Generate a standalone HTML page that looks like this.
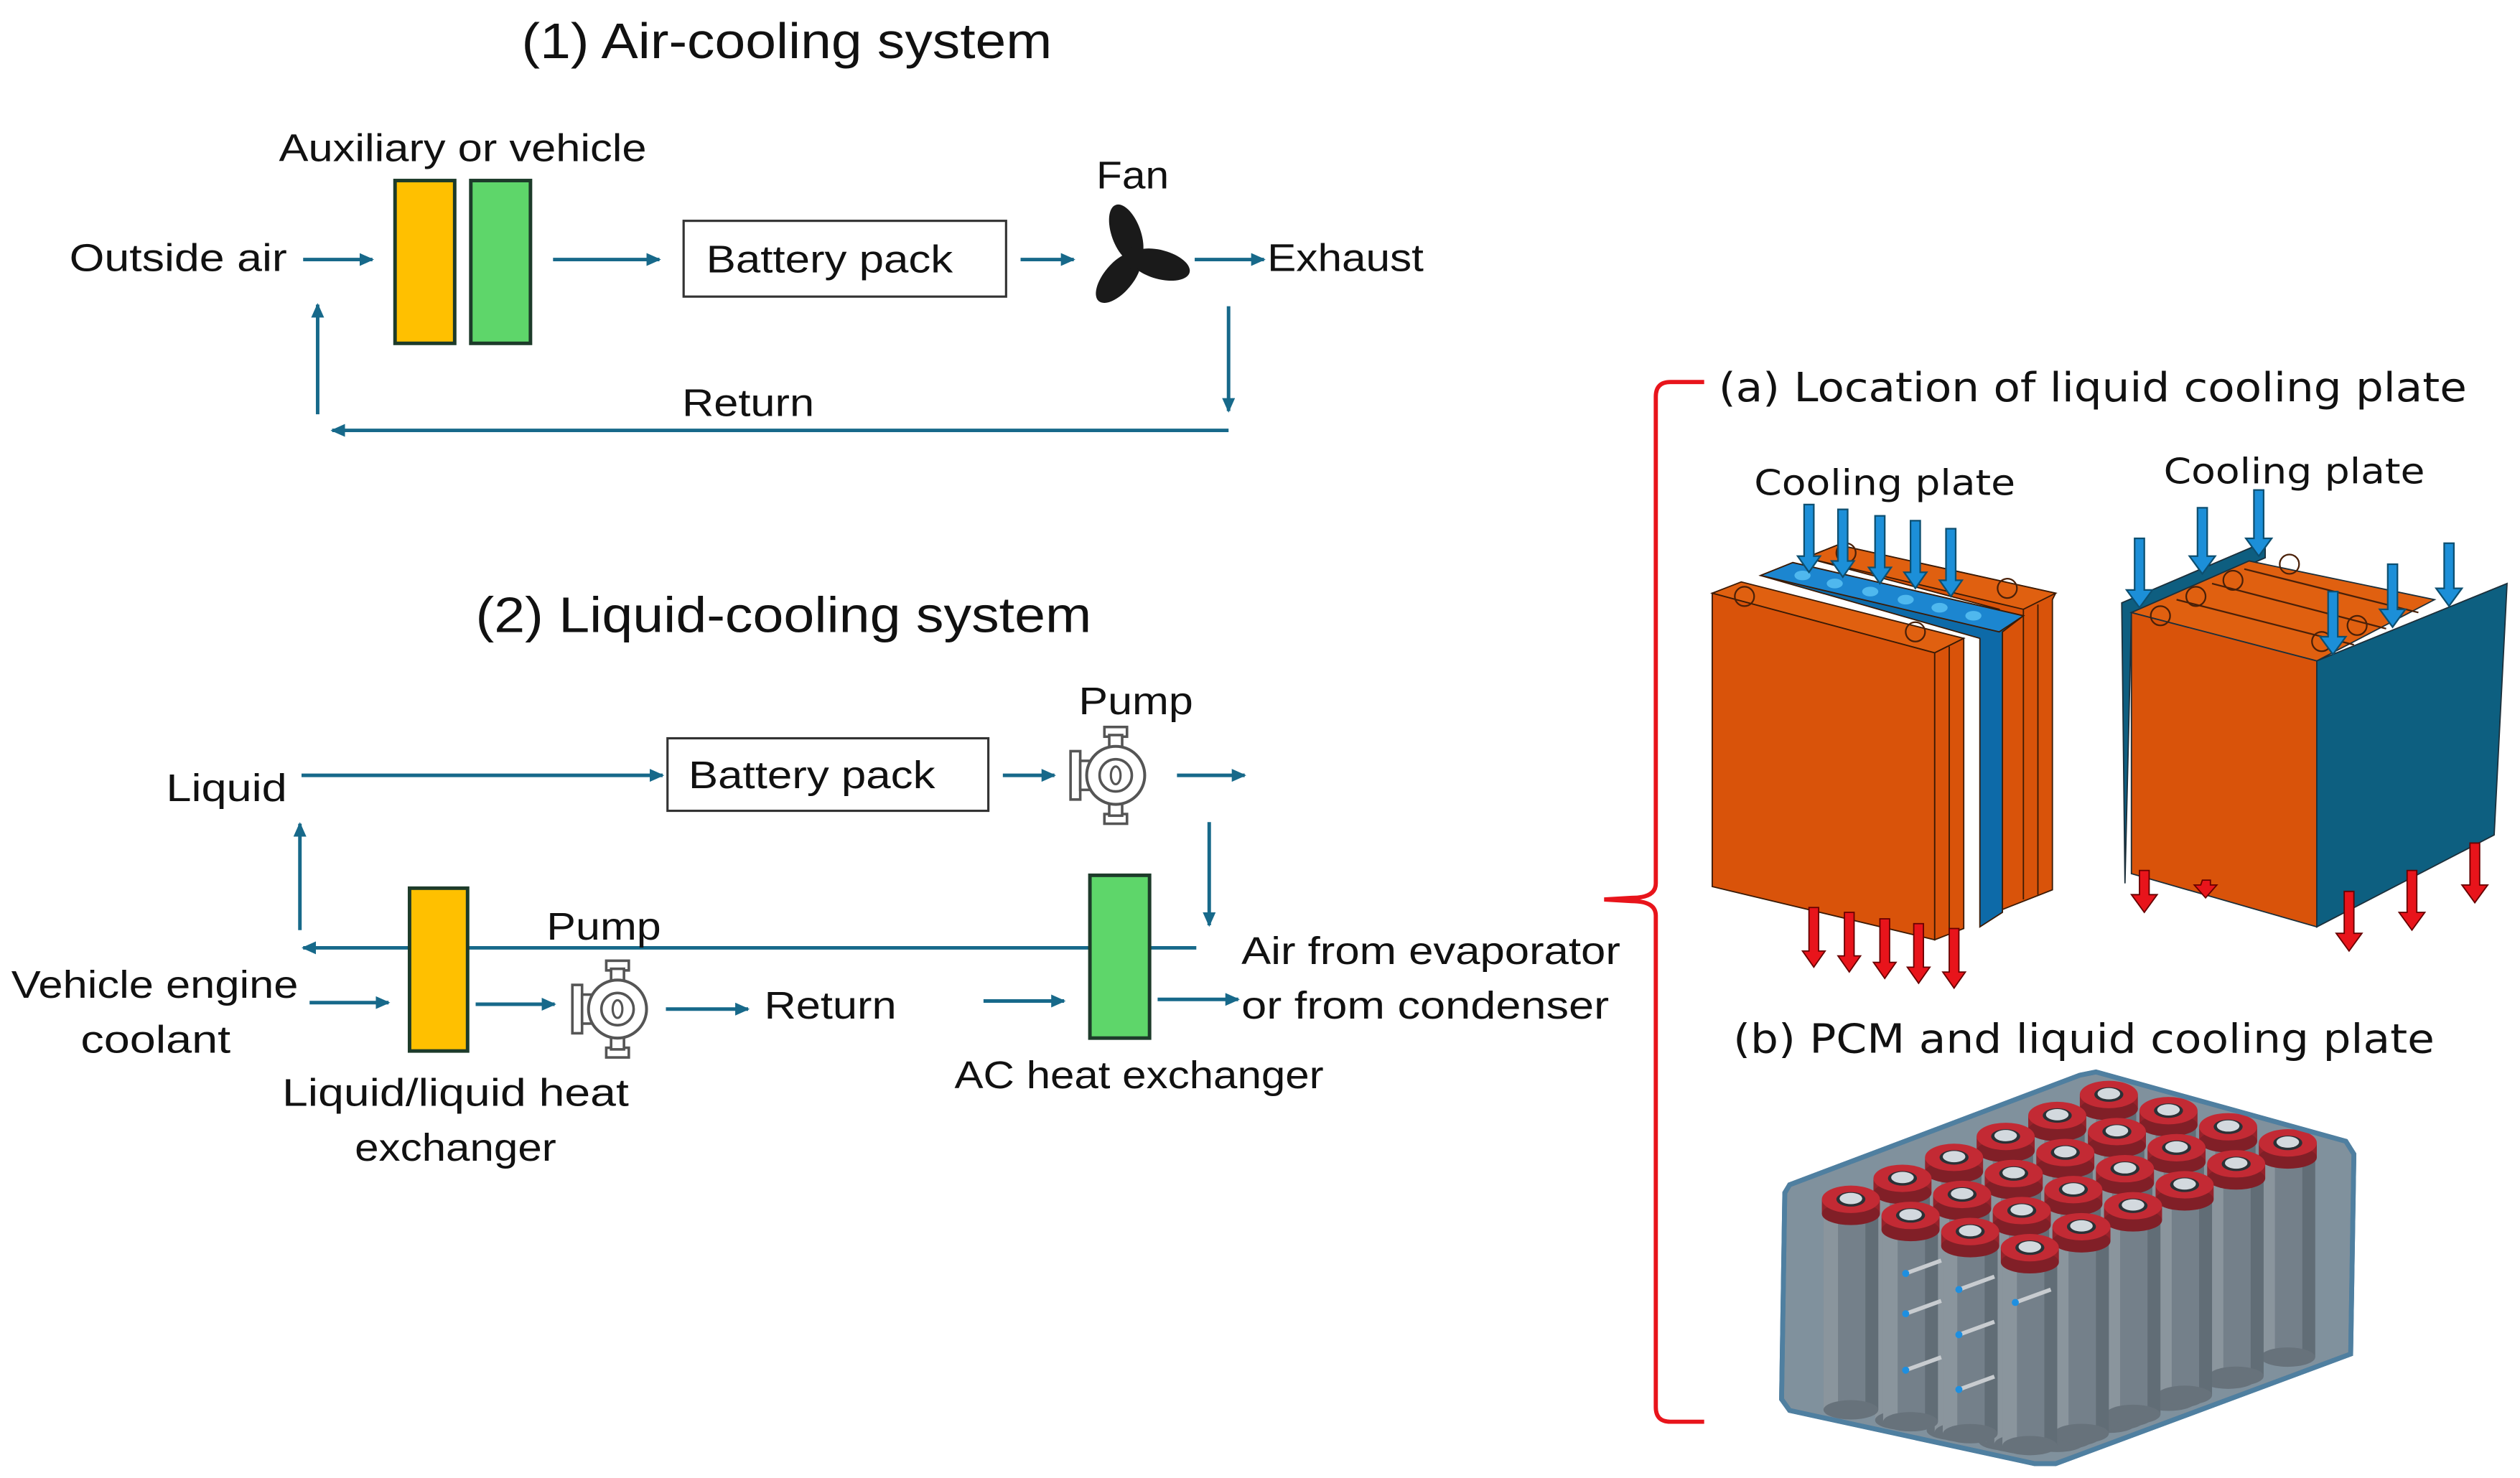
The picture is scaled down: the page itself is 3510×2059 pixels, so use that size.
<!DOCTYPE html>
<html><head><meta charset="utf-8"><style>
html,body{margin:0;padding:0;background:#fff}
svg{display:block}
text{font-family:"Liberation Sans",sans-serif;fill:#111}
.w{font-family:"DejaVu Sans","Liberation Sans",sans-serif}
</style></head><body>
<svg width="3510" height="2059" viewBox="0 0 1563 916.9" xmlns="http://www.w3.org/2000/svg">
<defs>
<marker id="ah" markerUnits="userSpaceOnUse" markerWidth="10" markerHeight="10" refX="8" refY="4" orient="auto"><path d="M0,0 L9,4 L0,8 Z" fill="#17698a"/></marker>
<g id="pump">
 <rect x="-7" y="-30" width="14" height="6" fill="#fff" stroke="#555" stroke-width="1.6"/>
 <rect x="-4" y="-25" width="8" height="8" fill="#fff" stroke="#555" stroke-width="1.6"/>
 <rect x="-7" y="24" width="14" height="6" fill="#fff" stroke="#555" stroke-width="1.6"/>
 <rect x="-4" y="17" width="8" height="8" fill="#fff" stroke="#555" stroke-width="1.6"/>
 <rect x="-28" y="-15" width="6" height="30" fill="#fff" stroke="#555" stroke-width="1.6"/>
 <rect x="-22" y="-9" width="8" height="18" fill="#fff" stroke="#555" stroke-width="1.6"/>
 <circle r="18" fill="#fff" stroke="#555" stroke-width="1.8"/>
 <circle r="10" fill="#fff" stroke="#555" stroke-width="1.6"/>
 <ellipse rx="3" ry="5.5" fill="none" stroke="#555" stroke-width="1.4"/>
</g>
</defs>
<g stroke="#17698a" stroke-width="2.2" fill="none" marker-end="url(#ah)">
 <line x1="188" y1="161" x2="231" y2="161"/>
 <line x1="343" y1="161" x2="409" y2="161"/>
 <line x1="633" y1="161" x2="666" y2="161"/>
 <line x1="741" y1="161" x2="784" y2="161"/>
 <line x1="762" y1="190" x2="762" y2="255"/>
 <line x1="762" y1="267" x2="206" y2="267"/>
 <line x1="197" y1="257" x2="197" y2="189"/>
 <line x1="187" y1="481" x2="411" y2="481"/>
 <line x1="622" y1="481" x2="654" y2="481"/>
 <line x1="730" y1="481" x2="772" y2="481"/>
 <line x1="750" y1="510" x2="750" y2="574"/>
 <line x1="742" y1="588" x2="188" y2="588"/>
 <line x1="186" y1="577" x2="186" y2="511"/>
 <line x1="192" y1="622" x2="241" y2="622"/>
 <line x1="295" y1="623" x2="344" y2="623"/>
 <line x1="413" y1="626" x2="464" y2="626"/>
 <line x1="610" y1="621" x2="660" y2="621"/>
 <line x1="718" y1="620" x2="768" y2="620"/>
</g>
<text x="488" y="36" font-size="31" text-anchor="middle" textLength="329" lengthAdjust="spacingAndGlyphs">(1) Air-cooling system</text>
<text x="173" y="100" font-size="24" textLength="228" lengthAdjust="spacingAndGlyphs">Auxiliary or vehicle</text>
<rect x="245" y="112" width="37" height="101" fill="#ffc000" stroke="#1d3b2a" stroke-width="2.2"/>
<rect x="292" y="112" width="37" height="101" fill="#5ed66a" stroke="#1d3b2a" stroke-width="2.2"/>
<text x="43" y="168" font-size="24" textLength="135" lengthAdjust="spacingAndGlyphs">Outside air</text>
<rect x="424" y="137" width="200" height="47" fill="#fff" stroke="#333" stroke-width="1.4"/>
<text x="438" y="169" font-size="24" textLength="153" lengthAdjust="spacingAndGlyphs">Battery pack</text>
<text x="680" y="117" font-size="24" textLength="45" lengthAdjust="spacingAndGlyphs">Fan</text>
<g transform="translate(704,160)" fill="#1a1a1a">
 <ellipse cx="0" cy="-16" rx="9" ry="19" transform="rotate(-20)"/>
 <ellipse cx="0" cy="-16" rx="9" ry="19" transform="rotate(105)"/>
 <ellipse cx="0" cy="-16" rx="9" ry="19" transform="rotate(220)"/>
 <circle r="7"/>
</g>
<text x="786" y="168" font-size="24" textLength="97" lengthAdjust="spacingAndGlyphs">Exhaust</text>
<text x="423" y="258" font-size="24" textLength="82" lengthAdjust="spacingAndGlyphs">Return</text>

<text x="486" y="392" font-size="31" text-anchor="middle" textLength="382" lengthAdjust="spacingAndGlyphs">(2) Liquid-cooling system</text>
<text x="103" y="497" font-size="24" textLength="75" lengthAdjust="spacingAndGlyphs">Liquid</text>
<rect x="414" y="458" width="199" height="45" fill="#fff" stroke="#333" stroke-width="1.4"/>
<text x="427" y="489" font-size="24" textLength="153" lengthAdjust="spacingAndGlyphs">Battery pack</text>
<text x="669" y="443" font-size="24" textLength="71" lengthAdjust="spacingAndGlyphs">Pump</text>
<use href="#pump" transform="translate(692,481)"/>
<rect x="254" y="551" width="36" height="101" fill="#ffc000" stroke="#1d3b2a" stroke-width="2.2"/>
<rect x="676" y="543" width="37" height="101" fill="#5ed66a" stroke="#1d3b2a" stroke-width="2.2"/>
<text x="339" y="583" font-size="24" textLength="71" lengthAdjust="spacingAndGlyphs">Pump</text>
<use href="#pump" transform="translate(383,626)"/>
<text x="7" y="619" font-size="24" textLength="178" lengthAdjust="spacingAndGlyphs">Vehicle engine</text>
<text x="50" y="653" font-size="24" textLength="93" lengthAdjust="spacingAndGlyphs">coolant</text>
<text x="474" y="632" font-size="24" textLength="82" lengthAdjust="spacingAndGlyphs">Return</text>
<text x="770" y="598" font-size="24" textLength="235" lengthAdjust="spacingAndGlyphs">Air from evaporator</text>
<text x="770" y="632" font-size="24" textLength="228" lengthAdjust="spacingAndGlyphs">or from condenser</text>
<text x="592" y="675" font-size="24" textLength="229" lengthAdjust="spacingAndGlyphs">AC heat exchanger</text>
<text x="175" y="686" font-size="24" textLength="215" lengthAdjust="spacingAndGlyphs">Liquid/liquid heat</text>
<text x="220" y="720" font-size="24" textLength="125" lengthAdjust="spacingAndGlyphs">exchanger</text>

<!-- brace -->
<path d="M1057,237 L1036,237 Q1027,237 1027,246 L1027,548 Q1027,557 1012,557 L995,558 L1012,559 Q1027,559 1027,568 L1027,873 Q1027,882 1036,882 L1057,882" fill="none" stroke="#e8141b" stroke-width="2.6"/>
<text class="w" x="1066" y="249" font-size="25" textLength="464" lengthAdjust="spacingAndGlyphs">(a) Location of liquid cooling plate</text>
<text class="w" x="1088" y="307" font-size="22" textLength="162" lengthAdjust="spacingAndGlyphs">Cooling plate</text>
<text class="w" x="1342" y="300" font-size="22" textLength="162" lengthAdjust="spacingAndGlyphs">Cooling plate</text>
<text class="w" x="1075" y="653" font-size="25" textLength="435" lengthAdjust="spacingAndGlyphs">(b) PCM and liquid cooling plate</text>

<!-- left battery -->
<g stroke="#3a1a05" stroke-width="0.8">
 <polygon points="1120,346 1140,338 1275,368 1273,372 1273,552 1240,565 1240,378" fill="#d9530a"/>
 <polygon points="1120,346 1140,338 1275,368 1255,378" fill="#e06010"/>
 <line x1="1255" y1="378" x2="1255" y2="558"/>
 <line x1="1264" y1="375" x2="1264" y2="555"/>
 <polygon points="1092,357 1112,349 1255,382 1242,392 1242,566 1228,575 1228,396" fill="#0d6aa8"/>
 <polygon points="1092,357 1112,349 1255,382 1240,392" fill="#1c86d0"/>
 <polygon points="1062,368 1080,361 1218,396 1200,405" fill="#e06010"/>
 <polygon points="1062,368 1200,405 1200,583 1062,550" fill="#d9530a"/>
 <polygon points="1200,405 1218,396 1218,576 1200,583" fill="#d9530a"/>
 <line x1="1209" y1="401" x2="1209" y2="580"/>
</g>
<g fill="#4fb8ee"><ellipse cx="1118" cy="357" rx="5" ry="3"/><ellipse cx="1138" cy="362" rx="5" ry="3"/><ellipse cx="1160" cy="367" rx="5" ry="3"/><ellipse cx="1182" cy="372" rx="5" ry="3"/><ellipse cx="1203" cy="377" rx="5" ry="3"/><ellipse cx="1224" cy="382" rx="5" ry="3"/></g>
<g fill="none" stroke="#4a2008" stroke-width="1"><circle cx="1082" cy="370" r="6"/><circle cx="1188" cy="392" r="6"/><circle cx="1145" cy="343" r="6"/><circle cx="1245" cy="365" r="6"/></g>
<!-- right battery -->
<g stroke="#1c2f3a" stroke-width="0.8">
 <polygon points="1316,374 1405,336 1405,346 1322,382 1318,548" fill="#0e5e80"/>
 <polygon points="1322,380 1395,348 1510,372 1437,410" fill="#e06010"/>
 <polygon points="1322,380 1437,410 1437,575 1322,542" fill="#d9530a"/>
 <polygon points="1437,410 1555,362 1547,518 1437,575" fill="#0d5f80"/>
</g>
<g fill="none" stroke="#4a2008" stroke-width="1"><circle cx="1340" cy="382" r="6"/><circle cx="1362" cy="370" r="6"/><circle cx="1385" cy="360" r="6"/><circle cx="1420" cy="350" r="6"/><circle cx="1440" cy="398" r="6"/><circle cx="1462" cy="388" r="6"/><line x1="1350" y1="372" x2="1460" y2="400"/><line x1="1372" y1="362" x2="1480" y2="390"/><line x1="1392" y1="353" x2="1500" y2="380"/></g>
<g stroke-width="1" stroke="#0d4f70" fill="#1c8fd8">
 <path d="M1119,313h6v32h4l-7,10l-7,-10h4z"/>
 <path d="M1140,316h6v32h4l-7,10l-7,-10h4z"/>
 <path d="M1163,320h6v32h4l-7,10l-7,-10h4z"/>
 <path d="M1185,323h6v32h4l-7,10l-7,-10h4z"/>
 <path d="M1207,328h6v32h4l-7,10l-7,-10h4z"/>
 <path d="M1324,334h6v32h5l-8,11l-8,-11h5z"/>
 <path d="M1363,315h6v30h5l-8,11l-8,-11h5z"/>
 <path d="M1398,304h6v30h5l-8,11l-8,-11h5z"/>
 <path d="M1444,367h6v28h5l-8,11l-8,-11h5z"/>
 <path d="M1481,350h6v28h5l-8,11l-8,-11h5z"/>
 <path d="M1516,337h6v28h5l-8,11l-8,-11h5z"/>
</g>
<g stroke-width="0.8" stroke="#600" fill="#e8141b">
 <path d="M1122,563h6v27h4l-7,10l-7,-10h4z"/>
 <path d="M1144,566h6v27h4l-7,10l-7,-10h4z"/>
 <path d="M1166,570h6v27h4l-7,10l-7,-10h4z"/>
 <path d="M1187,573h6v27h4l-7,10l-7,-10h4z"/>
 <path d="M1209,576h6v27h4l-7,10l-7,-10h4z"/>
 <path d="M1327,540h6v15h5l-8,11l-8,-11h5z"/>
 <path d="M1366,546h5v3h4l-7,8l-7,-8h4z"/>
 <path d="M1454,553h6v26h5l-8,11l-8,-11h5z"/>
 <path d="M1493,540h6v26h5l-8,11l-8,-11h5z"/>
 <path d="M1532,523h6v26h5l-8,11l-8,-11h5z"/>
</g>
<!-- PCM pack -->
<path d="M1107,740 L1110,735 L1290,667 L1300,665 L1455,708 L1460,716 L1458,840 L1275,908 L1262,908 L1110,875 L1105,868 Z" fill="#8c9aa3" stroke="#5c7d94" stroke-width="3"/>
<g id="cyl"></g>
<script>
(function(){
 var ns="http://www.w3.org/2000/svg",g=document.getElementById("cyl"),cells=[];
 for(var i=0;i<6;i++)for(var j=0;j<4;j++){cells.push([1148+i*32+j*37,742-i*13+j*10]);}
 cells.sort(function(a,b){return a[1]-b[1];});
 function el(t,a){var e=document.createElementNS(ns,t);for(var k in a)e.setAttribute(k,a[k]);g.appendChild(e);return e;}
 cells.forEach(function(c){
  var x=c[0],y=c[1];
  var bottom=Math.min(870+(x-1110)*0.2, 908-(x-1262)*0.37);
  if(x<1262) bottom=875+(x-1110)*0.2;
  var h=Math.max(40,bottom-y-8);
  el("rect",{x:x-17,y:y,width:34,height:h,fill:"#7e858b"});
  el("rect",{x:x-17,y:y,width:9,height:h,fill:"#a5aaae",opacity:"0.7"});
  el("rect",{x:x+9,y:y,width:8,height:h,fill:"#5c6268",opacity:"0.7"});
  el("ellipse",{cx:x,cy:y+h,rx:17,ry:6,fill:"#6d7378"});
  el("rect",{x:x-18,y:y+2,width:36,height:9,fill:"#a80f14"});
  el("ellipse",{cx:x,cy:y+11,rx:18,ry:7,fill:"#8e0c10"});
  el("ellipse",{cx:x,cy:y+2,rx:18,ry:8.5,fill:"#e01a20"});
  el("ellipse",{cx:x,cy:y+2,rx:9,ry:4.5,fill:"#222"});
  el("ellipse",{cx:x,cy:y+1.5,rx:7,ry:3.5,fill:"#f4f4f4"});
 });
 el("path",{d:"M1107,740 L1110,735 L1290,667 L1300,665 L1455,708 L1460,716 L1458,840 L1275,908 L1262,908 L1110,875 L1105,868 Z",fill:"#4f6f86","fill-opacity":"0.2",stroke:"#4f7fa0","stroke-width":"3"});
 [[1182,790],[1182,815],[1182,850],[1215,800],[1215,828],[1215,862],[1250,808]].forEach(function(p){
  el("line",{x1:p[0],y1:p[1],x2:p[0]+22,y2:p[1]-8,stroke:"#c8ccd0","stroke-width":"2.5"});
  el("circle",{cx:p[0],cy:p[1],r:2.2,fill:"#1e8fe0"});
 });
})();
</script>
</svg>
</body></html>
